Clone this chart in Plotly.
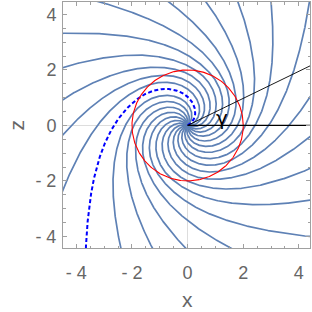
import numpy as np
import plotly.graph_objects as go

# ---- data / parameters ----
X_RANGE = [-4.48, 4.40]
Z_RANGE = [-4.42, 4.45]
TICK_VALS = [-4, -2, 0, 2, 4]
TICK_TEXT = ["- 4", "- 2", "0", "2", "4"]

N_LINES = 21                 # streamlines, evenly spaced in entry angle at the origin
HIGHLIGHT_ENTRY_ANGLE = 0.454  # rad, entry angle of the dashed (highlighted) streamline
SWIRL = 1.08                 # tangential / radial speed ratio scale
CORE_RADIUS = 2.0            # Rankine-type core radius
CIRCLE_RADIUS = 2.0          # red circle
GAMMA_DEG = 26.0             # angle of the slanted black line
GAMMA_LABEL = "γ"
GAMMA_LABEL_POS = (1.24, 0.27)

STREAM_COLOR = "#5E81B5"
LABEL_COLOR = "#666666"


def swirl_angle(r):
    return np.where(r < CORE_RADIUS, SWIRL * r,
                    SWIRL * (2 * CORE_RADIUS - CORE_RADIUS ** 2 / np.maximum(r, 1e-9)))


r = np.linspace(0.0, 7.5, 900)
fig = go.Figure()

entry_angles = [HIGHLIGHT_ENTRY_ANGLE + k * 2 * np.pi / N_LINES for k in range(N_LINES)]
for k, th0 in enumerate(entry_angles):
    if k == 0:
        continue
    th = th0 + swirl_angle(r)
    fig.add_trace(go.Scatter(x=r * np.cos(th), y=r * np.sin(th), mode="lines",
                             line=dict(color=STREAM_COLOR, width=1.7),
                             hoverinfo="skip", showlegend=False))

# highlighted streamline (dashed)
th = entry_angles[0] + swirl_angle(r)
fig.add_trace(go.Scatter(x=r * np.cos(th), y=r * np.sin(th), mode="lines",
                         line=dict(color="#0000FF", width=2, dash="4px,2.5px"),
                         hoverinfo="skip", showlegend=False))

# red circle
phi = np.linspace(0, 2 * np.pi, 361)
fig.add_trace(go.Scatter(x=CIRCLE_RADIUS * np.cos(phi), y=CIRCLE_RADIUS * np.sin(phi),
                         mode="lines", line=dict(color="#FF0000", width=1.1),
                         hoverinfo="skip", showlegend=False))

# black reference lines from the origin
L = 10.0
fig.add_trace(go.Scatter(x=[0, L], y=[0, 0], mode="lines",
                         line=dict(color="black", width=1.2),
                         hoverinfo="skip", showlegend=False))
g = np.deg2rad(GAMMA_DEG)
fig.add_trace(go.Scatter(x=[0, L * np.cos(g)], y=[0, L * np.sin(g)], mode="lines",
                         line=dict(color="black", width=0.9),
                         hoverinfo="skip", showlegend=False))

fig.add_annotation(x=GAMMA_LABEL_POS[0], y=GAMMA_LABEL_POS[1], text=GAMMA_LABEL,
                   showarrow=False, font=dict(size=20, color="black", family="DejaVu Sans"))

# axis titles
fig.add_annotation(x=0, xref="x", y=0, yref="paper", yshift=-51, yanchor="middle",
                   text="x", showarrow=False,
                   font=dict(family="Liberation Sans", size=21, color=LABEL_COLOR))
fig.add_annotation(x=0, xref="paper", xshift=-47, xanchor="center", y=0, yref="y",
                   text="z", textangle=-90, showarrow=False,
                   font=dict(family="Liberation Sans", size=21, color=LABEL_COLOR))

axis_common = dict(
    showgrid=False, automargin=False,
    zeroline=True, zerolinecolor="#DDDDDD", zerolinewidth=1,
    showline=True, linecolor="#A0A0A0", linewidth=1, mirror="ticks",
    ticks="inside", ticklen=4, tickcolor="#A0A0A0", tickwidth=1,
    minor=dict(dtick=0.5, ticks="inside", ticklen=2.5, tickcolor="#A0A0A0", tickwidth=1),
    tickvals=TICK_VALS, ticktext=TICK_TEXT,
    tickfont=dict(family="Liberation Sans", size=18, color=LABEL_COLOR),
)

fig.update_xaxes(range=X_RANGE, ticklabelstandoff=8, **axis_common)
fig.update_yaxes(range=Z_RANGE, ticklabelstandoff=2, **axis_common)

fig.update_layout(width=312, height=312,
                  margin=dict(l=63, r=2, t=2, b=64, autoexpand=False),
                  plot_bgcolor="white", paper_bgcolor="white")

fig.write_html("out.html", config={"displayModeBar": False},
               post_script="document.body.style.margin='0px';document.body.style.overflow='hidden';")
